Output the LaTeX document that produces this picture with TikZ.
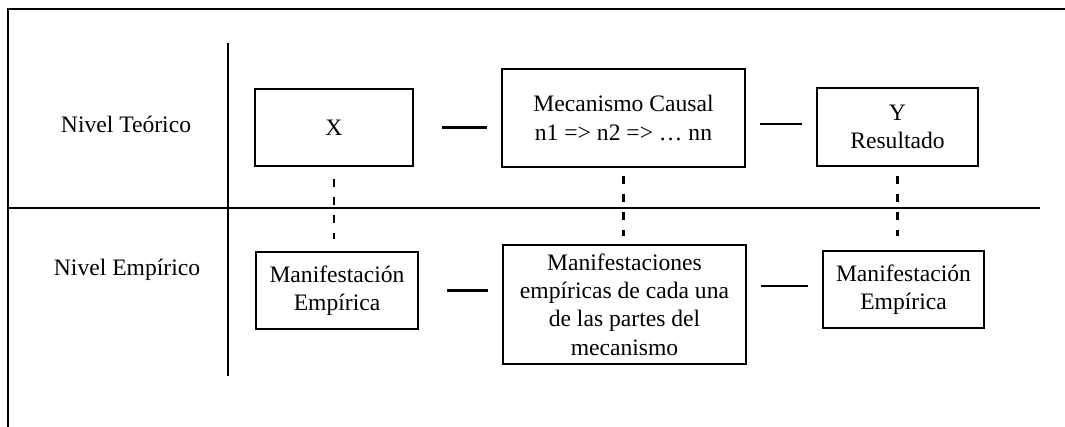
\documentclass[tikz,border=0pt]{standalone}
\usepackage{fontspec}
\setmainfont{Liberation Serif}
\begin{document}
\begin{tikzpicture}
  [x=0.75pt,y=-0.75pt,every node/.style={font=\fontsize{17.7pt}{21.3pt}\selectfont,align=center,inner sep=0pt}]
  \tikzstyle{box} = [draw,line width=1.8pt,rectangle]
  \tikzstyle{link} = [line width=1.6pt,shorten >=10.5pt]
  \tikzstyle{dashlink} = [line width=1.8pt,dash pattern=on 6pt off 7.5pt]
  \useasboundingbox (0,0) rectangle (1065,427);
  % frame and levels
  \draw[line width=2pt] (8,427) -- (8,9) -- (1065,9);
  \draw[line width=1.4pt] (228,43) -- (228,376);
  \draw[line width=1.4pt] (9,208) -- (1040,208);
  \node (teo) at (126,124) {Nivel Teórico};
  \node (emp) at (127,270) {Nivel Empírico};

  \node[box,minimum width=118.5pt,minimum height=57.75pt] (x) at (334,127.5) {X};
  \node[box,minimum width=182.25pt,minimum height=73.5pt] (mec) at (623.5,118) {Mecanismo Causal\\n1 => n2 => … nn};
  \node[box,minimum width=120.75pt,minimum height=58.5pt] (y) at (897.5,127) {Y\\Resultado};
  \node[box,minimum width=121.5pt,minimum height=57.75pt] (m1) at (337,290.5) {Manifestación\\Empírica};
  \node[box,minimum width=182.25pt,minimum height=89.25pt] (m2) at (624.5,304.5) {Manifestaciones\\empíricas de cada una\\de las partes del\\mecanismo};
  \node[box,minimum width=120.75pt,minimum height=57.75pt] (m3) at (903.5,289.5) {Manifestación\\Empírica};

  \foreach \from/\to in {x/mec,m1/m2}
    \draw[link,shorten <=21pt] (\from.east) -- (\from.east -| \to.west);
  \foreach \from/\to in {mec/y,m2/m3}
    \draw[link,shorten <=10.5pt] ([yshift=2.5pt]\to.west -| \from.east) -- ([yshift=2.5pt]\to.west);
  \foreach \up/\down/\s/\e in {x/m1/9pt/9pt,mec/m2/6pt/6pt,y/m3/6.75pt/10.5pt}
    \draw[dashlink,shorten <=\s,shorten >=\e] (\up.south) -- (\up.south |- \down.north);

\end{tikzpicture}
\end{document}
